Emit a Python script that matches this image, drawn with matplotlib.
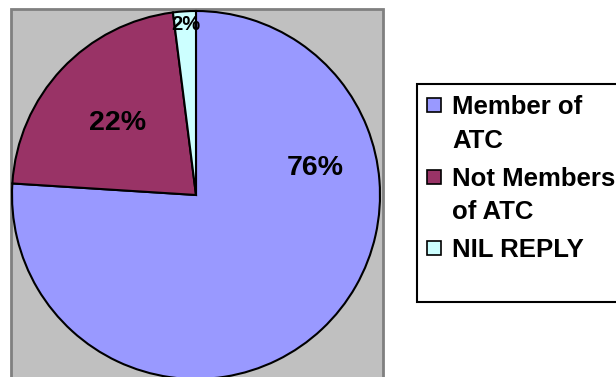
import matplotlib
matplotlib.use("Agg")
import matplotlib.pyplot as plt
import matplotlib.patches as mpatches

plt.rcParams["font.family"] = ["Liberation Sans", "DejaVu Sans"]

# ── data ────────────────────────────────────────────────────────────────────
labels = ["Member of\nATC", "Not Members\nof ATC", "NIL REPLY"]
values = [76, 22, 2]
colors = ["#9999FF", "#993366", "#CCFFFF"]

W, H = 616, 377

fig = plt.figure(figsize=(W / 100, H / 100), dpi=100)
ax = fig.add_axes([0, 0, 1, 1])

# grey plot area behind the pie
ax.add_patch(mpatches.Rectangle((10.5, -10), 372, H - 8.5 + 10,
                                facecolor="#C0C0C0", edgecolor="#808080",
                                linewidth=2, zorder=0))

ax.pie(values, colors=colors, startangle=90, counterclock=False,
       center=(196, H - 195), radius=184,
       wedgeprops=dict(edgecolor="black", linewidth=1.5))

# percentage labels (positions as in the original chart)
label_pos = [(315, 168), (118, 123), (186, 25)]
label_size = [20.5, 20.5, 14.5]
total = sum(values)
for v, (x, y), fs in zip(values, label_pos, label_size):
    ax.text(x, H - y, f"{v / total * 100:.0f}%", ha="center", va="center",
            fontsize=fs, fontweight="bold", color="black", zorder=5)

# ── legend box ──────────────────────────────────────────────────────────────
ax.add_patch(mpatches.Rectangle((417, H - 302), 260, 218,
                                facecolor="white", edgecolor="black",
                                linewidth=1.5, clip_on=False, zorder=1))

entry_baselines = [(114, 148), (186, 219), (257,)]
for lab, col, bases in zip(labels, colors, entry_baselines):
    ax.add_patch(mpatches.Rectangle((427, H - bases[0] + 2), 14, 14,
                                    facecolor=col, edgecolor="black",
                                    linewidth=1.2, zorder=3))
    for line, b in zip(lab.split("\n"), bases):
        ax.text(452, H - b, line, ha="left", va="baseline",
                fontsize=18.5, fontweight="bold", color="black", zorder=3)

ax.set_xlim(0, W)
ax.set_ylim(0, H)
ax.set_aspect("equal")
ax.axis("off")

fig.savefig("out.png", dpi=100)
plt.close(fig)
